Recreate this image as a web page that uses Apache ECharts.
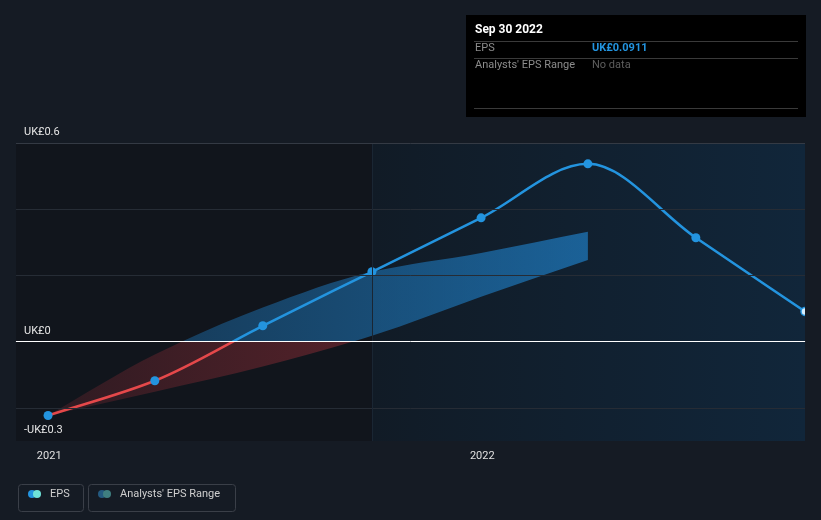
<!DOCTYPE html>
<html><head><meta charset="utf-8">
<script src="https://cdn.jsdelivr.net/npm/echarts@6/dist/echarts.min.js"></script>
<style>html,body{margin:0;padding:0;background:#151b24;}#c{width:821px;height:520px;}</style>
</head><body><div id="c"></div>
<script>
// ---- data ----
const epsDates = ['2020-12-31','2021-03-31','2021-06-30','2021-09-30','2021-12-31','2022-03-31','2022-06-30','2022-09-30'];
const epsValues = [-0.223, -0.118, 0.048, 0.211, 0.374, 0.537, 0.314, 0.0911];
const bandDates = ['2020-12-31','2021-03-31','2021-06-30','2021-09-30','2021-12-31','2022-03-31'];
const bandLower = [-0.223, -0.151, -0.075, 0.018, 0.136, 0.247];
const bandUpper = [-0.223, -0.039, 0.103, 0.211, 0.268, 0.332];
const xTickDates = ['2021-01-01','2022-01-01'];
const xMinDate = '2020-12-04';
const xMaxDate = '2022-09-30';
const actualStart = '2021-09-30';
const yMin = -0.3, yMax = 0.6;
const yGridValues = [-0.2, 0.2, 0.4];
const yLabelValues = [-0.3, 0, 0.6];
const yLabelTexts = ['-UK£0.3', 'UK£0', 'UK£0.6'];

const ts = s => { const [y,m,d] = s.split('-').map(Number); return new Date(y, m-1, d).getTime(); };
const FONT = 'Roboto, "Noto Sans", sans-serif';
const BLUE = '#2394df', RED = '#e5484a';

function monoSegs(p) {
  const n = p.length, dx = [], s = [], m = [];
  for (let i = 0; i < n-1; i++) { dx[i] = p[i+1][0]-p[i][0]; s[i] = (p[i+1][1]-p[i][1]) / dx[i]; }
  m[0] = s[0]; m[n-1] = s[n-2];
  for (let i = 1; i < n-1; i++) {
    if (s[i-1]*s[i] <= 0) m[i] = 0;
    else m[i] = 3*(dx[i-1]+dx[i]) / ((2*dx[i]+dx[i-1])/s[i-1] + (dx[i]+2*dx[i-1])/s[i]);
  }
  const segs = [];
  for (let i = 0; i < n-1; i++) {
    const h = dx[i]/3;
    segs.push({p0:p[i], c1:[p[i][0]+h, p[i][1]+m[i]*h], c2:[p[i+1][0]-h, p[i+1][1]-m[i+1]*h], p1:p[i+1]});
  }
  return segs;
}
function segsPath(segs) {
  let path = 'M' + segs[0].p0.join(' ');
  segs.forEach(g => { path += ' C' + g.c1.join(' ') + ' ' + g.c2.join(' ') + ' ' + g.p1.join(' '); });
  return path;
}

function renderBand(params, api) {
  if (params.dataIndex !== 0) return;
  const U = bandDates.map((d,i) => api.coord([ts(d), bandUpper[i]]));
  const L = bandDates.map((d,i) => api.coord([ts(d), bandLower[i]]));
  const us = monoSegs(U), ls = monoSegs(L);
  let path = segsPath(us);
  path += ' L' + L[L.length-1].join(' ');
  for (let i = ls.length-1; i >= 0; i--) { const g = ls[i]; path += ' C' + g.c2.join(' ') + ' ' + g.c1.join(' ') + ' ' + g.p0.join(' '); }
  path += ' Z';
  const zeroY = api.coord([ts(bandDates[0]), 0])[1];
  const x0 = U[0][0], x1 = U[U.length-1][0];
  const grad = (r,g,b,a0,a1) => ({type:'linear', x:x0, y:0, x2:x1, y2:0, global:true,
     colorStops:[{offset:0,color:`rgba(${r},${g},${b},${a0})`},{offset:1,color:`rgba(${r},${g},${b},${a1})`}]});
  return {type:'group', children:[
    {type:'path', shape:{pathData:path}, style:{fill:grad(225,60,70,0.14,0.45)},
      clipPath:{type:'rect', shape:{x:0, y:zeroY, width:2000, height:1000}}},
    {type:'path', shape:{pathData:path}, style:{fill:grad(33,140,220,0.25,0.6)},
      clipPath:{type:'rect', shape:{x:0, y:-1000, width:2000, height:zeroY+1000}}}
  ]};
}

function renderEps(params, api) {
  if (params.dataIndex !== 0) return;
  const P = epsDates.map((d,i) => api.coord([ts(d), epsValues[i]]));
  const zeroY = api.coord([ts(epsDates[0]), 0])[1];
  const f = zeroY / 520;
  const cs = params.coordSys;
  const children = [{type:'path', shape:{pathData:segsPath(monoSegs(P))},
    style:{fill:null, lineWidth:2.5, stroke:{type:'linear', x:0, y:0, x2:0, y2:520, global:true,
      colorStops:[{offset:0,color:BLUE},{offset:f,color:BLUE},{offset:f,color:RED},{offset:1,color:RED}]}}}];
  P.forEach((p,i) => {
    const last = i === P.length-1;
    children.push({type:'circle', shape:{cx:p[0], cy:p[1], r: last ? 4 : 4.5},
      style: last ? {fill:'#d6ecfb', stroke:BLUE, lineWidth:1.5} : {fill:BLUE}});
  });
  return {type:'group', children,
    clipPath:{type:'rect', shape:{x:cs.x, y:cs.y - 20, width:cs.width, height:cs.height + 40}}};
}

const chart = echarts.init(document.getElementById('c'));
const gridMarkLines = yGridValues.map(v => ({yAxis:v, lineStyle:{color:'#262c35', width:1, type:'solid'}, label:{show:false}}));
const labelMarkLines = yLabelValues.map((v,i) => ({yAxis:v,
  lineStyle: v === 0 ? {color:'#ffffff', width:1, type:'solid'} : (v === yMax ? {color:'#343a44', width:1, type:'solid'} : {color:'rgba(0,0,0,0)', width:1}),
  label:{show:true, formatter:yLabelTexts[i], position:'insideStartTop', distance:[8,5], color:'#e6e6e6', fontSize:11, fontFamily:FONT}}));

chart.setOption({
  backgroundColor:'#151b24',
  animation:false,
  textStyle:{fontFamily:FONT},
  grid:{left:16, right:16, top:143, bottom:79, containLabel:false},
  xAxis:{type:'value', min:ts(xMinDate), max:ts(xMaxDate),
    axisLine:{show:true, lineStyle:{color:'#3e444e', width:1}},
    axisTick:{show:true, length:4, lineStyle:{color:'#3e444e'}, customValues:xTickDates.map(ts)},
    axisLabel:{color:'#e0e0e0', fontSize:11, margin:10, fontFamily:FONT, customValues:xTickDates.map(ts),
      formatter: v => String(new Date(v).getFullYear())},
    splitLine:{show:false}},
  yAxis:{type:'value', min:yMin, max:yMax, axisLine:{show:false}, axisTick:{show:false}, axisLabel:{show:false}, splitLine:{show:false}},
  series:[
    {type:'line', data:[], z:1, silent:true,
      markArea:{silent:true, data:[
        [{xAxis:ts(xMinDate), itemStyle:{color:'#11151c'}}, {xAxis:ts(actualStart)}],
        [{xAxis:ts(actualStart), itemStyle:{color:{type:'linear', x:0, y:0, x2:1, y2:0,
            colorStops:[{offset:0,color:'#111b26'},{offset:1,color:'#11263a'}]}},
          label:{show:true, formatter:'Actual', position:'insideTopRight', distance:[8,6], color:'#ffffff', fontSize:11, fontFamily:FONT}},
         {xAxis:ts(xMaxDate)}]
      ]},
      markLine:{silent:true, symbol:'none', animation:false, data:[
        ...gridMarkLines,
        {xAxis:ts(actualStart), lineStyle:{color:'#1a2633', width:1, type:'solid'}, label:{show:false}},
        ...labelMarkLines
      ]}
    },
    {type:'custom', renderItem:renderBand, z:2, silent:true,
      data:bandDates.map((d,i) => [ts(d), bandLower[i], bandUpper[i]]), encode:{x:0, y:[1,2]}},
    {type:'custom', renderItem:renderEps, z:3, silent:true,
      data:epsDates.map((d,i) => [ts(d), epsValues[i]]), encode:{x:0, y:1}}
  ],
  graphic:[
    {type:'rect', left:466, top:15, shape:{width:340, height:102}, style:{fill:'#000000'}, z:10},
    {type:'text', left:475, top:24, style:{text:'Sep 30 2022', fill:'#ffffff', font:'bold 12px ' + FONT}, z:11},
    {type:'rect', left:474, top:41, shape:{width:324, height:1}, style:{fill:'#3a3a3a'}, z:11},
    {type:'text', left:475, top:43, style:{text:'EPS', fill:'#8c8c8c', font:'11px ' + FONT}, z:11},
    {type:'text', left:592, top:43, style:{text:'UK£0.0911', fill:BLUE, font:'bold 11px ' + FONT}, z:11},
    {type:'rect', left:474, top:58, shape:{width:324, height:1}, style:{fill:'#3a3a3a'}, z:11},
    {type:'text', left:475, top:60, style:{text:"Analysts' EPS Range", fill:'#8c8c8c', font:'11px ' + FONT}, z:11},
    {type:'text', left:592, top:60, style:{text:'No data', fill:'#5e5e5e', font:'11px ' + FONT}, z:11},
    {type:'rect', left:474, top:108, shape:{width:324, height:1}, style:{fill:'#3a3a3a'}, z:11},
    // legend
    {type:'rect', left:16, top:482, shape:{width:65, height:27, r:3}, style:{fill:'none', stroke:'#3a3f48', lineWidth:1}, z:10},
    {type:'circle', left:28, top:490, shape:{r:4}, style:{fill:BLUE}, z:11},
    {type:'circle', left:33, top:490, shape:{r:4}, style:{fill:'#6fe3d9'}, z:12},
    {type:'text', left:50, top:489, style:{text:'EPS', fill:'#cfcfcf', font:'11px ' + FONT}, z:11},
    {type:'rect', left:86, top:482, shape:{width:147, height:27, r:3}, style:{fill:'none', stroke:'#3a3f48', lineWidth:1}, z:10},
    {type:'circle', left:98, top:490, shape:{r:4}, style:{fill:'#245a80'}, z:11},
    {type:'circle', left:103, top:490, shape:{r:4}, style:{fill:'#3f7f80'}, z:12},
    {type:'text', left:120, top:489, style:{text:"Analysts' EPS Range", fill:'#cfcfcf', font:'11px ' + FONT}, z:11}
  ]
});
</script></body></html>
